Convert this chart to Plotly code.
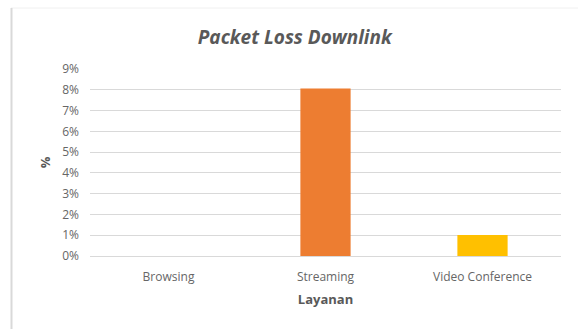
import plotly.graph_objects as go

categories = ["Browsing", "Streaming", "Video Conference"]
values = [0.0, 0.0806, 0.0101]
colors = ["#5B9BD5", "#ED7D31", "#FFC000"]
y_ticks = [0, 0.01, 0.02, 0.03, 0.04, 0.05, 0.06, 0.07, 0.08, 0.09]
y_tick_labels = ["0%", "1%", "2%", "3%", "4%", "5%", "6%", "7%", "8%", "9%"]

fig = go.Figure()
fig.add_trace(go.Bar(
    x=categories, y=values,
    marker=dict(color=colors, line=dict(width=0)),
    width=0.32,
))

W, H = 578, 329
L, R, T, B = 90, 17, 69, 73
pw, ph = W - L - R, H - T - B

def px_x(x):
    return (x - L) / pw

def px_y(y):
    return (H - B - y) / ph

font_family = "'Open Sans', Lato, sans-serif"
fig.update_layout(
    width=W, height=H,
    margin=dict(l=L, r=R, t=T, b=B),
    paper_bgcolor="white", plot_bgcolor="white",
    showlegend=False,
    font=dict(family=font_family, color="#595959", size=12),
    title=dict(
        text="<b><i>Packet Loss Downlink</i></b>",
        x=0.51, xref="container", xanchor="center",
        y=1 - 37 / H, yref="container", yanchor="middle",
        font=dict(size=19, color="#595959", family=font_family),
    ),
    xaxis=dict(
        showgrid=False, showline=True, linecolor="#D9D9D9", linewidth=1,
        ticks="", tickfont=dict(size=12, color="#666666"),
        ticklabelstandoff=10,
        title=dict(text="<b>Layanan</b>", font=dict(size=13, color="#595959"), standoff=10),
    ),
    yaxis=dict(
        range=[0, 0.09], tickvals=y_ticks, ticktext=y_tick_labels,
        showgrid=True, gridcolor="#D9D9D9", gridwidth=1,
        zeroline=False, showline=False, ticks="",
        tickfont=dict(size=12, color="#666666"),
        ticklabelstandoff=10,
        title=dict(text="<b>%</b>", font=dict(size=13, color="#595959"), standoff=8),
    ),
    shapes=[
        dict(type="line", xref="paper", yref="paper", x0=px_x(11), x1=px_x(578), y0=px_y(8), y1=px_y(8),
             line=dict(color="#F0F0F0", width=1)),
        dict(type="line", xref="paper", yref="paper", x0=px_x(11.5), x1=px_x(11.5), y0=px_y(8), y1=px_y(329),
             line=dict(color="#D9D9D9", width=2)),
    ],
)

fig.write_html("out.html")
